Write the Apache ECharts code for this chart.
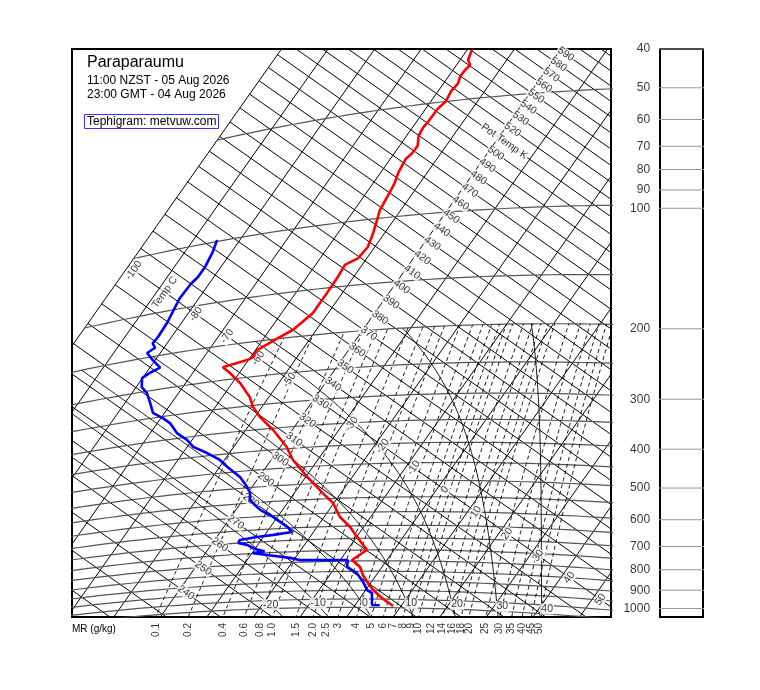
<!DOCTYPE html>
<html>
<head>
<meta charset="utf-8">
<script src="https://cdn.jsdelivr.net/npm/echarts@6/dist/echarts.min.js"></script>
<style>
html,body{margin:0;padding:0;background:#fff;}
#chart{width:760px;height:690px;}
</style>
</head>
<body>
<div id="chart"></div>
<script>
// sounding, temperature (hPa / degC)
const tempP = [1040, 994, 949, 905, 869, 829, 795, 750, 728, 694, 654, 615, 565, 531, 479, 430, 396, 354, 324, 303,
  284, 258, 240, 230, 224, 221, 212, 198, 191, 174, 155, 141, 131, 127, 119, 109, 101, 95, 88, 81,
  76, 70, 68, 65, 61, 58, 56, 52, 50, 47, 45, 43, 41.5, 40.3, 39, 36.7];
const tempT = [8.3, 4.7, 1.6, -0.9, -2.9, -4.7, -7.5, -5.8, -7.4, -9.9, -12.9, -16.6, -20.2, -23.9, -29.7, -35.3, -38.6, -44.1, -48.9, -51.9,
  -54.1, -58.3, -62.0, -64.4, -60.3, -59.5, -59.7, -56.7, -55.0, -53.3, -53.3, -53.4, -53.7, -51.9, -51.5, -52.5, -53.6, -54.5, -54.9, -55.4,
  -56.2, -56.7, -56.2, -56.1, -57.4, -57.7, -57.5, -57.4, -56.8, -57.2, -56.9, -57.5, -57.4, -57.1, -58.3, -59.0];
// sounding, dew point
const dewP = [1036, 1035, 966, 949, 905, 859, 828, 795, 794, 790, 778, 760, 748, 742, 730, 710, 699, 687, 679, 674,
  666, 645, 604, 576, 540, 517, 497, 466, 434, 414, 393, 374, 356, 338, 315, 303, 290, 271, 253, 242,
  228, 222, 217, 204, 194, 189, 183, 177, 162, 153, 140, 129, 124, 117, 107, 99];
const dewT = [5.3, 3.6, 1.8, 0.3, -1.8, -4.5, -7.5, -8.4, -10.1, -18.7, -21.1, -26.5, -29.8, -27.6, -30.0, -32.3, -34.5, -34.6, -31.4, -28.2,
  -24.6, -26.4, -31.0, -34.8, -38.5, -39.5, -41.1, -44.1, -48.4, -51.0, -54.8, -58.7, -61.1, -64.3, -67.3, -69.6, -72.5, -74.6, -76.8, -78.8,
  -80.1, -79.2, -77.8, -80.7, -82.8, -81.9, -83.1, -82.9, -83.1, -83.5, -84.1, -83.9, -83.4, -83.4, -84.0, -84.9];

// diagram lines
const isotherms = [-100, -90, -80, -70, -60, -50, -40, -30, -20, -10, 0, 10, 20, 30, 40, 50, 60];
const dryAdiabats = [200, 210, 220, 230, 240, 250, 260, 270, 280, 290, 300, 310, 320, 330, 340, 350, 360, 370, 380, 390, 400,
  410, 420, 430, 440, 450, 460, 470, 480, 490, 500, 510, 520, 530, 540, 550, 560, 570, 580, 590, 600, 610, 620];
const isobars = [1050, 1000, 950, 900, 850, 800, 750, 700, 650, 600, 550, 500, 450, 400, 350, 300, 250, 200, 150, 100, 50];
const mixRatios = [0.1, 0.2, 0.4, 0.6, 0.8, 1, 1.5, 2, 2.5, 3, 4, 5, 6, 7, 8, 9, 10, 12, 14, 16, 18, 20, 25, 30, 35, 40, 45, 50];
const mixLabels = ['0.1', '0.2', '0.4', '0.6', '0.8', '1.0', '1.5', '2.0', '2.5', '3', '4', '5', '6', '7', '8', '9', '10',
  '12', '14', '16', '18', '20', '25', '30', '35', '40', '45', '50'];
const wetBulbs = [-20, -10, 0, 10, 20, 30, 40];

// labels
const tempLabels = [-100, -80, -70, -60, -50, -30, -20, -10, 0, 10, 20, 30, 40, 50];
const thetaLabels = [240, 250, 260, 270, 280, 290, 300, 310, 320, 330, 340, 350, 360, 370, 380, 390, 400, 410, 420, 430,
  440, 450, 460, 470, 480, 490, 500, 510, 520, 530, 540, 550, 560, 570, 580, 590];
const bottomLabels = [-20, -10, 0, 10, 20, 30, 40];
const panelTicks = [40, 50, 60, 70, 80, 90, 100, 200, 300, 400, 500, 600, 700, 800, 900, 1000];

// layout of the tephigram (pixel units on both axes)
const GRID = {left: 72, top: 49, width: 539, height: 568};
const ORIGIN = [359.4, 599];        // where 0 C / 1000 hPa sits
const LABEL_SHIFT = [5.6, -4];
const ANG = 35.2 * Math.PI / 180, CA = Math.cos(ANG), SA = Math.sin(ANG);
const KT = 3.807, KS = 732.6, KAPPA = 0.2857;
const FONT = '"Liberation Sans", Arial, Helvetica, sans-serif';

function projTh(t, th) {
  const a = KT * t, b = KS * Math.log(th / 273.15);
  return [a * CA + b * SA, -a * SA + b * CA];
}
function projP(t, p) {
  return projTh(t, (t + 273.15) * Math.pow(1000 / p, KAPPA));
}
function shift(pt) { return [pt[0] + LABEL_SHIFT[0], pt[1] + LABEL_SHIFT[1]]; }

function esat(t) { return 6.112 * Math.exp(17.67 * t / (t + 243.5)); }
function dewFromE(e) { const l = Math.log(e / 6.112); return 243.5 * l / (17.67 - l); }

function moistLapse(tk, p) {
  const Rd = 287.04, cp = 1005.7, Lv = 2.501e6, eps = 0.622;
  const e = esat(tk - 273.15), rs = eps * e / (p - e);
  return (Rd * tk + Lv * rs) / (p * (cp + Lv * Lv * rs * eps / (Rd * tk * tk)));
}
function moistPath(tw, pEnd, dp) {
  let p = 1000, tk = tw + 273.15;
  const out = [[p, tk - 273.15]];
  while ((dp < 0 && p > pEnd) || (dp > 0 && p < pEnd)) {
    const k1 = moistLapse(tk, p);
    const k2 = moistLapse(tk + k1 * dp / 2, p + dp / 2);
    const k3 = moistLapse(tk + k2 * dp / 2, p + dp / 2);
    const k4 = moistLapse(tk + k3 * dp, p + dp);
    tk += dp * (k1 + 2 * k2 + 2 * k3 + k4) / 6;
    p += dp;
    out.push([p, tk - 273.15]);
  }
  return out;
}

const xMin = GRID.left - ORIGIN[0], xMax = GRID.left + GRID.width - ORIGIN[0];
const yMin = ORIGIN[1] - (GRID.top + GRID.height), yMax = ORIGIN[1] - GRID.top;

const series = [];
function addLine(data, style, z) {
  series.push({type: 'line', xAxisIndex: 0, yAxisIndex: 0, data: data, symbol: 'none', silent: true,
    animation: false, lineStyle: style, z: z || 2});
}

const thin = {color: '#000', width: 1};
isotherms.forEach(t => addLine([projP(t, 1300), projP(t, 20)], thin));
dryAdiabats.forEach(th => addLine([projTh(-100, th), projTh(90, th)], thin));
isobars.forEach(p => {
  const pts = [];
  for (let t = -100; t <= 90; t += 2) pts.push(projP(t, p));
  addLine(pts, {color: '#555', width: 1.2});
});
const mixCross = [];
mixRatios.forEach(w => {
  const pts = [];
  for (let p = 1120; p >= 200; p -= 10) {
    const e = w * p / (622 + w);
    pts.push(projP(dewFromE(e), p));
  }
  addLine(pts, {color: '#000', width: 0.9, type: [4, 3]});
  // where the line leaves the bottom of the frame
  let xc = pts[0][0];
  for (let i = 1; i < pts.length; i++) {
    if (pts[i - 1][1] <= yMin && pts[i][1] > yMin) {
      const f = (yMin - pts[i - 1][1]) / (pts[i][1] - pts[i - 1][1]);
      xc = pts[i - 1][0] + f * (pts[i][0] - pts[i - 1][0]);
      break;
    }
  }
  mixCross.push(xc);
});
wetBulbs.forEach(tw => {
  const down = moistPath(tw, 1100, 5).reverse();
  const up = moistPath(tw, 200, -5).slice(1);
  const pts = down.concat(up).filter(d => d[1] >= -100).map(d => projP(d[1], d[0]));
  addLine(pts, {color: '#000', width: 0.9});
});

// soundings
addLine(tempP.map((p, i) => projP(tempT[i], p)), {color: '#ff0000', width: 2.6}, 6);
addLine(dewP.map((p, i) => projP(dewT[i], p)), {color: '#0000ff', width: 2.6}, 6);

function labelSeries(data, rotate, extra) {
  series.push(Object.assign({
    type: 'scatter', xAxisIndex: 0, yAxisIndex: 0, symbolSize: 0, silent: true, animation: false, z: 4,
    data: data,
    label: {show: true, position: 'inside', formatter: '{b}', rotate: rotate, color: '#000', fontSize: 10.5,
      fontFamily: FONT, backgroundColor: '#fff', padding: [0, 1]}
  }, extra || {}));
}
const tLab = tempLabels.map(t => ({value: shift(projTh(t, 330)), name: String(t)}));
tLab.push({value: shift(projTh(-90, 330)), name: 'Temp C'});
labelSeries(tLab, 54.8);
labelSeries(thetaLabels.map(th => ({value: shift(projTh(-40, th)), name: th === 510 ? 'Pot Temp K' : String(th)})), -35.2);
labelSeries(bottomLabels.map(t => ({value: shift(projP(t, 1000)), name: String(t)})), 0);
series.push({
  type: 'scatter', xAxisIndex: 0, yAxisIndex: 0, symbolSize: 0, silent: true, animation: false, clip: false,
  data: mixLabels.map((s, i) => ({value: [mixCross[i], yMin - 6], name: s})),
  label: {show: true, position: 'inside', formatter: '{b}', rotate: 90, align: 'right', verticalAlign: 'middle',
    color: '#000', fontSize: 10, fontFamily: FONT}
});

// right-hand pressure panel
panelTicks.forEach(p => {
  series.push({type: 'line', xAxisIndex: 1, yAxisIndex: 1, data: [[-0.16, p], [1.12, p]], symbol: 'none',
    silent: true, animation: false, clip: false, lineStyle: {color: '#999', width: 1}, z: 1});
});
series.push({
  type: 'scatter', xAxisIndex: 1, yAxisIndex: 1, symbolSize: 0, silent: true, animation: false, clip: false,
  data: panelTicks.map(p => ({value: [-0.16, p], name: String(p)})),
  label: {show: true, position: 'left', distance: 3, formatter: '{b}', color: '#000', fontSize: 12, fontFamily: FONT}
});

const chart = echarts.init(document.getElementById('chart'));
chart.setOption({
  animation: false,
  backgroundColor: '#fff',
  grid: [
    {left: GRID.left, top: GRID.top, width: GRID.width, height: GRID.height, show: true,
      borderColor: '#000', borderWidth: 2, backgroundColor: 'transparent'},
    {left: 660, top: 49, width: 43, height: 568, show: true, borderColor: '#000', borderWidth: 2,
      backgroundColor: 'transparent'}
  ],
  xAxis: [
    {type: 'value', gridIndex: 0, min: xMin, max: xMax, show: false},
    {type: 'value', gridIndex: 1, min: 0, max: 1, show: false}
  ],
  yAxis: [
    {type: 'value', gridIndex: 0, min: yMin, max: yMax, show: false},
    {type: 'log', gridIndex: 1, min: 40, max: 1050, inverse: true, show: false}
  ],
  graphic: [
    {type: 'text', x: 87, y: 63, style: {text: 'Paraparaumu', font: '16px ' + FONT, fill: '#000', verticalAlign: 'middle'}},
    {type: 'text', x: 87, y: 81, style: {text: '11:00 NZST - 05 Aug 2026', font: '12px ' + FONT, fill: '#000', verticalAlign: 'middle'}},
    {type: 'text', x: 87, y: 94.5, style: {text: '23:00 GMT - 04 Aug 2026', font: '12px ' + FONT, fill: '#000', verticalAlign: 'middle'}},
    {type: 'rect', shape: {x: 84.5, y: 114.5, width: 134, height: 14}, style: {fill: '#fff', stroke: '#3333ff', lineWidth: 1}},
    {type: 'text', x: 87, y: 121.5, style: {text: 'Tephigram: metvuw.com', font: '12px ' + FONT, fill: '#000', verticalAlign: 'middle'}},
    {type: 'text', x: 72, y: 629, style: {text: 'MR (g/kg)', font: '10px ' + FONT, fill: '#000', verticalAlign: 'middle'}}
  ],
  series: series
});
</script>
</body>
</html>
